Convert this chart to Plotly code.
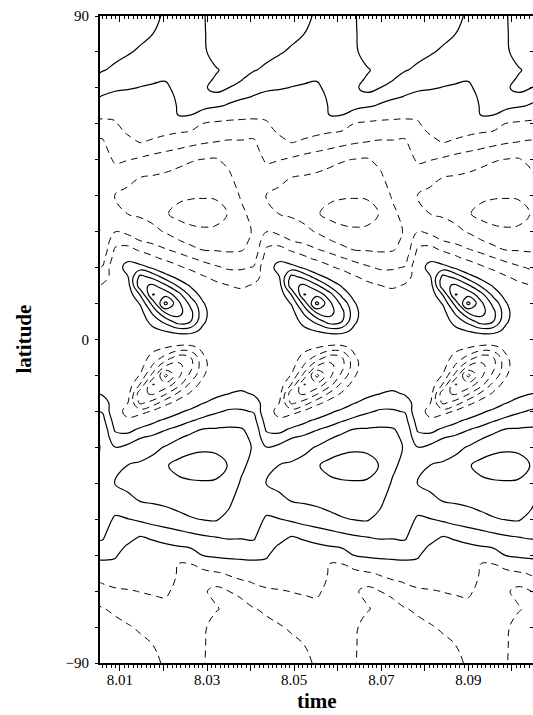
import plotly.graph_objects as go

# ---- data -----------------------------------------------------------------
# one cycle of the field at 12 phase columns; rows are latitudes
phase_count = 12
period_start = 8.005963      # time of phase column 0
period_length = 0.034748     # one cycle in time units

north_lats = [90, 85, 80, 75, 72.5, 70, 67.5, 65, 62.5, 60, 57.5, 55, 52.5, 50,
              45, 40, 35, 30, 27.5, 25, 22.5, 20, 17.5, 15, 12.5, 10, 7.5, 5, 2.5, 0]
north_rows = [
    [2.6, 2.6, 2.55, 2.5, 2.25, 1.85, 1.7, 1.8, 1.95, 2.3, 2.5, 2.55],
    [2.41, 2.39, 2.31, 2.21, 2.0, 1.65, 1.6, 1.72, 1.93, 2.3, 2.45, 2.5],
    [2.22, 2.18, 2.08, 1.88, 1.65, 1.5, 1.5, 1.65, 1.9, 2.25, 2.35, 2.35],
    [2.04, 1.89, 1.63, 1.43, 1.3, 1.21, 1.4, 1.57, 1.85, 1.95, 2.15, 2.1],
    [1.76, 1.54, 1.35, 1.21, 1.12, 1.07, 1.35, 1.53, 1.85, 2.05, 2.1, 2.05],
    [1.37, 1.19, 1.07, 0.97, 0.9, 0.82, 1.3, 1.55, 1.9, 2.2, 2.0, 1.8],
    [0.93, 0.68, 0.69, 0.66, 0.57, 0.49, 1.22, 1.4, 1.65, 1.8, 1.5, 1.23],
    [0.1, -0.04, 0.29, 0.34, 0.24, 0.15, 1.13, 1.25, 1.35, 1.19, 0.83, 0.38],
    [-0.73, -0.77, -0.11, 0.02, -0.08, -0.19, 1.03, 1.03, 0.48, -0.26, -0.56, -0.67],
    [-1.33, -1.13, -0.52, -0.3, -0.41, -0.53, 0.19, -0.21, -1.08, -1.23, -1.28, -1.3],
    [-1.81, -1.32, -0.92, -0.62, -0.74, -0.86, -1.0, -1.21, -1.48, -1.62, -1.69, -1.75],
    [-2.09, -1.49, -1.28, -0.94, -1.13, -1.36, -1.56, -1.73, -1.89, -2.0, -2.08, -2.06],
    [-2.25, -1.7, -1.63, -1.56, -1.79, -1.95, -2.12, -2.3, -2.46, -2.63, -2.41, -2.2],
    [-2.4, -1.89, -1.97, -2.16, -2.34, -2.52, -2.73, -2.93, -3.04, -3.08, -2.74, -2.3],
    [-2.5, -2.43, -2.76, -3.01, -3.1, -3.2, -3.34, -3.43, -3.47, -3.48, -3.22, -2.5],
    [-2.6, -3.05, -3.23, -3.38, -3.38, -3.55, -3.78, -3.89, -3.91, -3.88, -3.58, -2.9],
    [-2.7, -2.6, -3.01, -3.15, -3.36, -3.9, -4.3, -4.45, -4.5, -4.4, -3.95, -3.2],
    [-2.9, -2.02, -2.21, -2.45, -2.73, -3.08, -3.43, -3.73, -3.83, -3.79, -3.53, -3.4],
    [-2.82, -1.39, -1.57, -2.0, -2.22, -2.53, -2.94, -3.29, -3.44, -3.43, -3.31, -3.25],
    [-2.75, -0.87, -0.58, -1.22, -1.59, -1.94, -2.25, -2.7, -3.05, -3.07, -3.1, -3.06],
    [-2.35, -0.53, 0.58, 0.0, -0.7, -1.23, -1.57, -1.9, -2.24, -2.49, -2.7, -2.67],
    [-1.93, -0.2, 1.8, 1.54, 0.82, 0.0, -0.78, -1.26, -1.56, -1.86, -2.12, -2.11],
    [-1.39, -0.6, 0.9, 3.29, 2.62, 1.47, 0.61, -0.3, -0.94, -1.26, -1.55, -1.62],
    [-0.9, -0.35, 0.5, 3.69, 4.19, 3.19, 1.86, 0.86, -0.19, -0.77, -0.98, -1.15],
    [-0.55, -0.25, 0.3, 2.07, 5.05, 4.67, 3.45, 1.69, 0.55, -0.35, -0.55, -0.68],
    [-0.35, -0.15, 0.2, 1.08, 3.38, 6.3, 4.29, 2.71, 1.1, 0.05, -0.25, -0.38],
    [-0.2, -0.08, 0.1, 0.6, 2.17, 4.08, 4.39, 3.3, 1.35, 0.25, -0.1, -0.18],
    [-0.1, -0.04, 0.05, 0.35, 1.42, 2.29, 3.5, 3.0, 1.17, 0.3, -0.03, -0.07],
    [-0.04, -0.02, 0.02, 0.15, 0.71, 1.09, 1.5, 1.5, 0.71, 0.15, 0, -0.02],
    [0, 0, 0, 0, 0, 0, 0, 0, 0, 0, 0, 0],
]

south_lats = [-2.5, -5, -7.5, -10, -12.5, -15, -17.5, -20, -22.5, -25, -27.5, -30,
              -35, -40, -45, -50, -52.5, -55, -57.5, -60, -62.5, -65, -67.5, -70,
              -72.5, -75, -80, -85, -90]
south_rows = [
    [0.04, 0.02, -0.02, -0.15, -0.71, -1.09, -1.5, -1.5, -0.71, -0.15, 0, 0.02],
    [0.1, 0.04, -0.05, -0.35, -1.42, -2.29, -3.5, -3.0, -1.17, -0.3, 0.03, 0.07],
    [0.2, 0.08, -0.1, -0.6, -2.17, -4.08, -4.39, -3.3, -1.35, -0.25, 0.1, 0.18],
    [0.35, 0.15, -0.2, -1.08, -3.38, -6.3, -4.29, -2.71, -1.1, -0.05, 0.25, 0.38],
    [0.55, 0.25, -0.3, -2.07, -5.05, -4.67, -3.45, -1.69, -0.55, 0.35, 0.55, 0.68],
    [0.9, 0.35, -0.5, -3.69, -4.19, -3.19, -1.86, -0.86, 0.19, 0.77, 0.98, 1.15],
    [1.39, 0.6, -0.9, -3.29, -2.62, -1.47, -0.61, 0.3, 0.94, 1.26, 1.55, 1.62],
    [1.93, 0.2, -1.8, -1.54, -0.82, 0.0, 0.78, 1.26, 1.56, 1.86, 2.12, 2.11],
    [2.35, 0.53, -0.58, 0.0, 0.7, 1.23, 1.57, 1.9, 2.24, 2.49, 2.7, 2.67],
    [2.75, 0.87, 0.58, 1.22, 1.59, 1.94, 2.25, 2.7, 3.05, 3.07, 3.1, 3.06],
    [2.82, 1.39, 1.57, 2.0, 2.22, 2.53, 2.94, 3.29, 3.44, 3.43, 3.31, 3.25],
    [2.9, 2.02, 2.21, 2.45, 2.73, 3.08, 3.43, 3.73, 3.83, 3.79, 3.53, 3.4],
    [2.7, 2.6, 3.01, 3.15, 3.36, 3.9, 4.3, 4.45, 4.5, 4.4, 3.95, 3.2],
    [2.6, 3.05, 3.23, 3.38, 3.38, 3.55, 3.78, 3.89, 3.91, 3.88, 3.58, 2.9],
    [2.5, 2.43, 2.76, 3.01, 3.1, 3.2, 3.34, 3.43, 3.47, 3.48, 3.22, 2.5],
    [2.4, 1.89, 1.97, 2.16, 2.34, 2.52, 2.73, 2.93, 3.04, 3.08, 2.74, 2.3],
    [2.25, 1.7, 1.63, 1.56, 1.79, 1.95, 2.12, 2.3, 2.46, 2.63, 2.41, 2.2],
    [2.09, 1.49, 1.28, 0.94, 1.13, 1.36, 1.56, 1.73, 1.89, 2.0, 2.08, 2.06],
    [1.81, 1.32, 0.92, 0.62, 0.74, 0.86, 1.0, 1.21, 1.48, 1.62, 1.69, 1.75],
    [1.33, 1.13, 0.52, 0.3, 0.41, 0.53, -0.19, 0.21, 1.08, 1.23, 1.28, 1.3],
    [0.73, 0.77, 0.11, -0.02, 0.08, 0.19, -1.03, -1.03, -0.48, 0.26, 0.56, 0.67],
    [-0.1, 0.04, -0.29, -0.34, -0.24, -0.15, -1.13, -1.25, -1.35, -1.19, -0.83, -0.38],
    [-0.93, -0.68, -0.69, -0.66, -0.57, -0.49, -1.22, -1.4, -1.65, -1.8, -1.5, -1.23],
    [-1.37, -1.19, -1.07, -0.97, -0.9, -0.82, -1.3, -1.55, -1.9, -2.2, -2.0, -1.8],
    [-1.76, -1.54, -1.35, -1.21, -1.12, -1.07, -1.35, -1.53, -1.85, -2.05, -2.1, -2.05],
    [-2.04, -1.89, -1.63, -1.43, -1.3, -1.21, -1.4, -1.57, -1.85, -1.95, -2.15, -2.1],
    [-2.22, -2.18, -2.08, -1.88, -1.65, -1.5, -1.5, -1.65, -1.9, -2.25, -2.35, -2.35],
    [-2.41, -2.39, -2.31, -2.21, -2.0, -1.65, -1.6, -1.72, -1.93, -2.3, -2.45, -2.5],
    [-2.6, -2.6, -2.55, -2.5, -2.25, -1.85, -1.7, -1.8, -1.95, -2.3, -2.5, -2.55],
]

x_label_vals = [8.01, 8.03, 8.05, 8.07, 8.09]
x_major_vals = [8.00, 8.01, 8.02, 8.03, 8.04, 8.05, 8.06, 8.07, 8.08, 8.09, 8.10]
y_tick_vals = [-90, -80, -70, -60, -50, -40, -30, -20, -10, 0, 10, 20, 30, 40, 50, 60, 70, 80, 90]
y_label_vals = [-90, 0, 90]

# ---- build grid (the cycle repeats along time) ---------------------------
lat_list = south_lats[::-1] + north_lats[::-1]
row_list = south_rows[::-1] + north_rows[::-1]
col_index = list(range(-1, 36))
times = [period_start + j * period_length / phase_count for j in col_index]
z = [[row[j % phase_count] for j in col_index] for row in row_list]

fig = go.Figure()
common = dict(x=times, y=lat_list, z=z, showscale=False, hoverinfo="skip",
              autocontour=False)
fig.add_trace(go.Contour(**common,
                         contours=dict(start=1, end=7, size=1, coloring="none"),
                         line=dict(color="black", width=1.2, smoothing=1.2)))
fig.add_trace(go.Contour(**common,
                         contours=dict(start=-7, end=-1, size=1, coloring="none"),
                         line=dict(color="black", width=1, dash="7px,5px", smoothing=1.2)))
fig.add_trace(go.Scatter(x=[times[0]], y=[0], xaxis="x2", yaxis="y2",
                         mode="markers", marker=dict(opacity=0), hoverinfo="skip"))

xr = [8.005413, 8.104839]
x_ticktext = [("%.2f" % v) if any(abs(v - w) < 1e-9 for w in x_label_vals) else ""
              for v in x_major_vals]
y_ticktext = [str(v).replace("-", "\u2212") if v in y_label_vals else "" for v in y_tick_vals]

fig.update_layout(
    width=533, height=715,
    margin=dict(l=100, r=0, t=16, b=52),
    plot_bgcolor="white", paper_bgcolor="white", showlegend=False,
    font=dict(family="Liberation Serif", size=15, color="black"),
    xaxis=dict(range=xr, tickmode="array", tickvals=x_major_vals, ticktext=x_ticktext,
               ticks="outside", ticklen=6, tickwidth=1, tickcolor="black",
               ticklabelstandoff=-4,
               minor=dict(dtick=0.001, tick0=8.0, ticks="outside", ticklen=3,
                          tickcolor="black", tickwidth=1, showgrid=False),
               showline=True, linewidth=2, linecolor="black",
               showgrid=False, zeroline=False),
    xaxis2=dict(range=xr, overlaying="x", side="top", anchor="y",
                tickmode="array", tickvals=x_major_vals, showticklabels=False,
                ticks="inside", ticklen=6, tickwidth=1, tickcolor="black",
                minor=dict(dtick=0.001, tick0=8.0, ticks="inside", ticklen=3,
                           tickcolor="black", tickwidth=1, showgrid=False),
                showline=True, linewidth=2, linecolor="black",
                showgrid=False, zeroline=False),
    yaxis=dict(range=[-90, 90], tickmode="array", tickvals=y_tick_vals, ticktext=y_ticktext,
               ticks="outside", ticklen=3, tickwidth=1, tickcolor="black",
               ticklabelstandoff=3,
               showline=True, linewidth=2, linecolor="black",
               showgrid=False, zeroline=False),
    yaxis2=dict(range=[-90, 90], overlaying="y", side="right", anchor="x",
                tickmode="array", tickvals=y_tick_vals, showticklabels=False,
                ticks="inside", ticklen=3, tickwidth=1, tickcolor="black",
                showline=False, showgrid=False, zeroline=False),
    annotations=[
        dict(text="<b>time</b>", xref="paper", yref="paper", x=0.5, y=0,
             yshift=-38, showarrow=False, font=dict(size=21, family="Liberation Serif"),
             xanchor="center", yanchor="middle"),
        dict(text="<b>latitude</b>", xref="paper", yref="paper", x=0, y=0.5,
             xshift=-77, showarrow=False, textangle=-90,
             font=dict(size=21, family="Liberation Serif"),
             xanchor="center", yanchor="middle"),
    ],
)

fig.write_html("out.html", config={"displayModeBar": False},
               post_script="document.body.style.margin='0';")
